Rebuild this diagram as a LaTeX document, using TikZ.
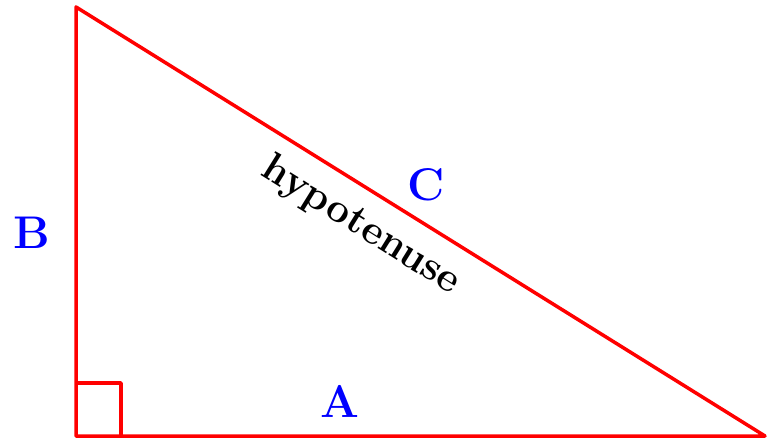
\documentclass[tikz,border=0pt]{standalone}
\usepackage{tikz}
\usetikzlibrary{positioning,calc}
\definecolor{edgered}{RGB}{255,0,0}
\definecolor{labelblue}{RGB}{0,0,255}

\begin{document}
\begin{tikzpicture}[
  x=1bp,y=-1bp,
  side/.style={draw=edgered,line width=3.5bp,line join=round},
  lbl/.style={font=\fontsize{46}{54}\selectfont\bfseries,text=labelblue,inner sep=0pt},
  hyp/.style={font=\fontsize{41}{49}\selectfont\bfseries,text=black,inner sep=0pt}
]
  \useasboundingbox (0,0) rectangle (767,439);
  % vertices
  \coordinate (top) at (76,7);
  \coordinate (corner) at (76,436);
  \coordinate (right) at (765,436);
  \draw[side] (top) -- (corner) -- (right) -- cycle;
  % right angle mark
  \draw[side] (76,383) -- (121,383) -- (121,436);
  % labels
  \node[lbl] (lb) at (32,233) {B};
  \node[lbl] (la) at (340,401) {A};
  \node[lbl] (lc) at (426,185) {C};
  \node[hyp,rotate=-31.9] (lh) at (361,226) {hypotenuse};
\end{tikzpicture}
\end{document}
